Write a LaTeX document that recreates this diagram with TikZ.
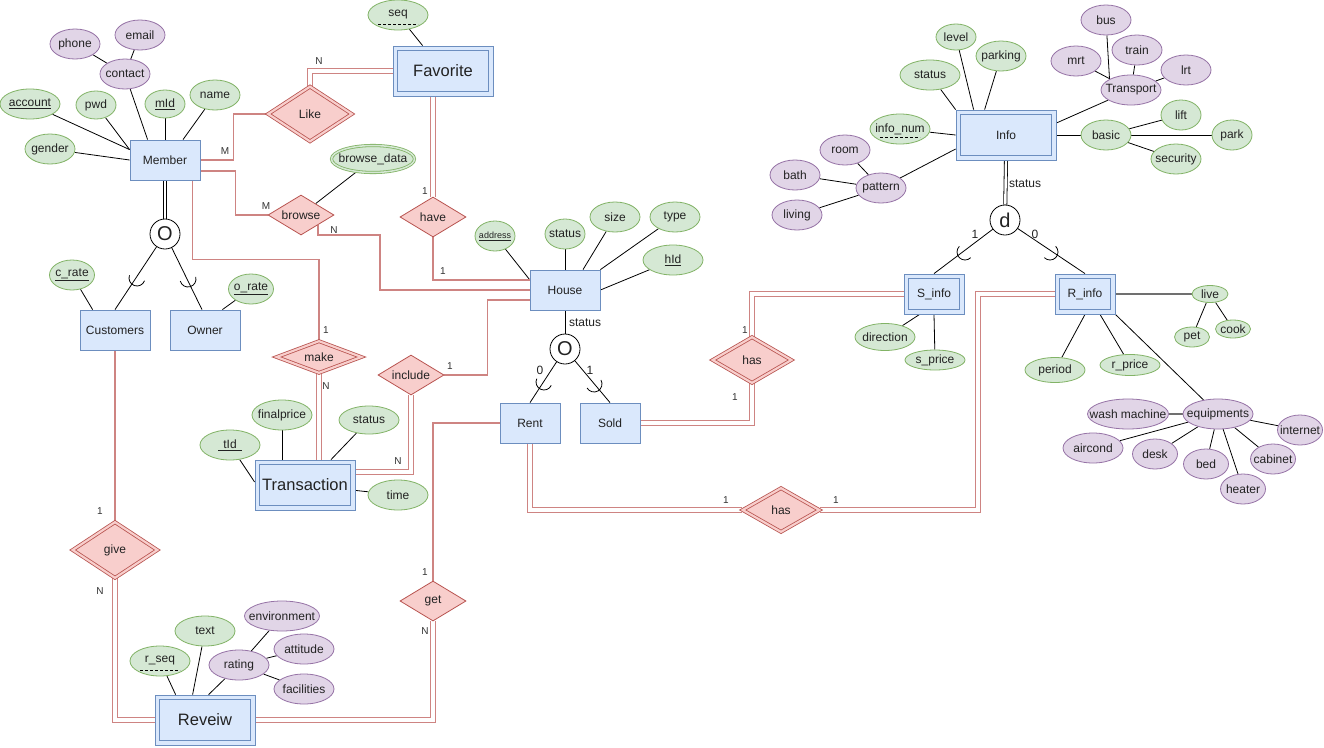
\documentclass[tikz,border=0pt]{standalone}
\usepackage{fontspec}
\setmainfont{Liberation Sans}
\usetikzlibrary{shapes.geometric,calc}
\definecolor{gfill}{HTML}{D5E8D4}
\definecolor{gline}{HTML}{82B366}
\definecolor{pfill}{HTML}{E1D5E7}
\definecolor{pline}{HTML}{9673A6}
\definecolor{bfill}{HTML}{DAE8FC}
\definecolor{bline}{HTML}{6C8EBF}
\definecolor{rfill}{HTML}{F8CECC}
\definecolor{rline}{HTML}{B85450}
\definecolor{rconn}{RGB}{206,132,130}
\definecolor{txt}{HTML}{222222}
\definecolor{thickgray}{HTML}{707070}
\newcommand{\myfs}[1]{\fontsize{#1}{#1}\selectfont}
\newcommand{\zb}[1]{\makebox[0pt]{#1}}
\pgfdeclarelayer{paper}
\pgfdeclarelayer{background}
\pgfsetlayers{paper,background,main}
\newcommand{\subarc}[3]{\draw[line width=0.8pt] (#1,#2) ++({#3+90}:8) arc[start angle={#3+90}, end angle={#3+270}, radius=8];}
\newcommand{\weakin}[1]{\draw[draw=bline, line width=0.8pt] ($(#1.north west)+(5,5)$) rectangle ($(#1.south east)+(-5,-5)$);}
\begin{document}
\begin{tikzpicture}[x=1pt,y=-1pt,
 every node/.style={text=txt},
 gattr/.style={ellipse, draw=gline, fill=gfill, line width=0.8pt, inner sep=0pt, font=\myfs{12}},
 pattr/.style={ellipse, draw=pline, fill=pfill, line width=0.8pt, inner sep=0pt, font=\myfs{12}},
 ent/.style={rectangle, draw=bline, fill=bfill, line width=0.8pt, inner sep=0pt, minimum width=70pt, minimum height=40pt, font=\myfs{12}},
 went/.style={ent},
 rel/.style={diamond, draw=rline, fill=rfill, line width=0.8pt, inner sep=0pt, font=\myfs{12}},
 wrel/.style={rel, double=rfill, double distance=2.2pt},
 spec/.style={circle, draw=black, fill=white, line width=0.8pt, minimum size=30pt, inner sep=0pt, font=\myfs{20}},
 card/.style={inner sep=0pt, font=\myfs{10}, text=black!80},
 lbl/.style={inner sep=0pt, font=\myfs{12}},
 al/.style={draw=black, line width=0.8pt},
 gl/.style={draw=thickgray, line width=1.8pt},
 rl/.style={draw=rconn, line width=1.1pt},
 rdl/.style={draw=rconn, line width=1pt, double=white, double distance=3.2pt},
 bdl/.style={draw=black, line width=0.8pt, double=white, double distance=2.4pt},
 dl/.style={draw=black, line width=0.7pt, dash pattern=on 3pt off 2pt},
]
\useasboundingbox (0,0) rectangle (1324,747);
\begin{pgfonlayer}{paper}
\fill[white] (0,0) rectangle (1324,747);
\end{pgfonlayer}

% ---------- entities ----------
\node[ent] (member) at (165,160) {Member};
\node[ent] (cust) at (115,330) {Customers};
\node[ent] (owner) at (205,330) {Owner};
\node[ent] (house) at (565,290) {House};
\node[ent, minimum width=60pt] (rent) at (530,423) {Rent};
\node[ent, minimum width=60pt] (sold) at (610,423) {Sold};
\node[went, minimum width=100pt, minimum height=50pt, font=\myfs{16.5}] (fav) at (443,71) {Favorite};
\node[went, minimum width=100pt, minimum height=50pt, font=\myfs{16.5}] (trans) at (305,485) {Transaction};
\node[went, minimum width=100pt, minimum height=50pt, font=\myfs{16.5}] (rev) at (205,720) {Reveiw};
\node[went, minimum width=100pt, minimum height=50pt] (info) at (1006,135) {Info};
\node[went, minimum width=60pt, minimum height=40pt] (sinfo) at (934,294) {S\_info};
\node[went, minimum width=60pt, minimum height=40pt] (rinfo) at (1085,294) {R\_info};
\weakin{fav}
\weakin{trans}
\weakin{rev}
\weakin{info}
\weakin{sinfo}
\weakin{rinfo}

% ---------- relationships ----------
\node[wrel, minimum width=84pt, minimum height=55pt] (like) at (310,114) {\zb{Like}};
\node[rel, minimum width=66pt, minimum height=40pt] (browse) at (301,215) {\zb{browse}};
\node[rel, minimum width=66pt, minimum height=40pt] (have) at (433,217) {\zb{have}};
\node[wrel, minimum width=85pt, minimum height=32pt] (make) at (319,357) {\zb{make}};
\node[rel, minimum width=66pt, minimum height=40pt] (include) at (411,375) {\zb{include}};
\node[wrel, minimum width=85pt, minimum height=56pt] (give) at (115,550) {\zb{give}};
\node[rel, minimum width=66pt, minimum height=40pt] (get) at (433,601) {\zb{get}};
\node[wrel, minimum width=79pt, minimum height=46pt] (has1) at (752,360) {\zb{has}};
\node[wrel, minimum width=77pt, minimum height=44pt] (has2) at (781,510) {\zb{has}};

% ---------- specialization circles ----------
\node[spec] (circM) at (165,234) {O};
\node[spec] (circH) at (565,349) {O};
\node[spec] (circD) at (1005,220) {d};

% ---------- Member attributes ----------
\node[gattr, minimum width=60pt, minimum height=30pt] (account) at (30,104) {\zb{\underline{account}}};
\node[gattr, minimum width=40pt, minimum height=28pt] (pwd) at (96,105) {\zb{pwd}};
\node[gattr, minimum width=40pt, minimum height=28pt] (mid) at (165,104) {\zb{\underline{mId}}};
\node[gattr, minimum width=50pt, minimum height=30pt] (name) at (215,95) {\zb{name}};
\node[gattr, minimum width=50pt, minimum height=30pt] (gender) at (50,149) {\zb{gender}};
\node[pattr, minimum width=50pt, minimum height=30pt] (contact) at (125,74) {\zb{contact}};
\node[pattr, minimum width=50pt, minimum height=30pt] (phone) at (75,44) {\zb{phone}};
\node[pattr, minimum width=50pt, minimum height=30pt] (email) at (140,35) {\zb{email}};
\node[gattr, minimum width=45pt, minimum height=30pt] (crate) at (72,275) {\zb{\underline{c\_rate}}};
\node[gattr, minimum width=45pt, minimum height=30pt] (orate) at (251,289) {\zb{\underline{o\_rate}}};

% ---------- Favorite / browse ----------
\node[gattr, minimum width=60pt, minimum height=30pt] (seq) at (398,15) {\zb{seq}};
\node[gattr, double=gfill, double distance=1.5pt, minimum width=83pt, minimum height=27pt] (bdata) at (373,159) {\zb{browse\_data}};

% ---------- House attributes ----------
\node[gattr, minimum width=40pt, minimum height=30pt, font=\myfs{9}] (address) at (495,236) {\zb{\underline{address}}};
\node[gattr, minimum width=40pt, minimum height=30pt] (hstatus) at (565,234) {\zb{status}};
\node[gattr, minimum width=50pt, minimum height=30pt] (size) at (615,217) {\zb{size}};
\node[gattr, minimum width=50pt, minimum height=30pt] (htype) at (675,217) {\zb{type}};
\node[gattr, minimum width=60pt, minimum height=30pt] (hid) at (673,260) {\zb{\underline{hId}}};

% ---------- Transaction attributes ----------
\node[gattr, minimum width=60pt, minimum height=30pt] (tid) at (230,445) {\zb{\underline{\hspace{5pt}tId\hspace{5pt}}}};
\node[gattr, minimum width=60pt, minimum height=30pt] (fprice) at (282,415) {\zb{finalprice}};
\node[gattr, minimum width=60pt, minimum height=28pt] (tstatus) at (369,420) {\zb{status}};
\node[gattr, minimum width=60pt, minimum height=30pt] (ttime) at (398,495) {\zb{time}};

% ---------- Reveiw attributes ----------
\node[gattr, minimum width=60pt, minimum height=30pt] (rseq) at (160,661) {\zb{r\_seq}};
\node[gattr, minimum width=60pt, minimum height=30pt] (rtext) at (205,631) {\zb{text}};
\node[pattr, minimum width=60pt, minimum height=30pt] (rating) at (239,665) {\zb{rating}};
\node[pattr, minimum width=75pt, minimum height=30pt] (envir) at (282,616) {\zb{environment}};
\node[pattr, minimum width=60pt, minimum height=30pt] (attit) at (304,649) {\zb{attitude}};
\node[pattr, minimum width=60pt, minimum height=30pt] (facil) at (304,689) {\zb{facilities}};

% ---------- Info attributes ----------
\node[gattr, minimum width=60pt, minimum height=30pt] (istatus) at (930,75) {\zb{status}};
\node[gattr, minimum width=40pt, minimum height=26pt] (level) at (956,37) {\zb{level}};
\node[gattr, minimum width=50pt, minimum height=30pt] (parking) at (1001,56) {\zb{parking}};
\node[gattr, minimum width=60pt, minimum height=30pt] (infonum) at (900,129) {\zb{info\_num}};
\node[pattr, minimum width=50pt, minimum height=30pt] (pattern) at (881,188) {\zb{pattern}};
\node[pattr, minimum width=50pt, minimum height=30pt] (room) at (845,150) {\zb{room}};
\node[pattr, minimum width=50pt, minimum height=30pt] (bath) at (795,175) {\zb{bath}};
\node[pattr, minimum width=50pt, minimum height=30pt] (living) at (797,215) {\zb{living}};
\node[pattr, minimum width=60pt, minimum height=30pt] (transport) at (1131,90) {\zb{Transport}};
\node[pattr, minimum width=50pt, minimum height=30pt] (bus) at (1106,20) {\zb{bus}};
\node[pattr, minimum width=50pt, minimum height=30pt] (mrt) at (1076,61) {\zb{mrt}};
\node[pattr, minimum width=50pt, minimum height=30pt] (train) at (1137,50) {\zb{train}};
\node[pattr, minimum width=50pt, minimum height=30pt] (lrt) at (1186,70) {\zb{lrt}};
\node[gattr, minimum width=50pt, minimum height=30pt] (basic) at (1106,135) {\zb{basic}};
\node[gattr, minimum width=40pt, minimum height=30pt] (lift) at (1181,115) {\zb{lift}};
\node[gattr, minimum width=40pt, minimum height=30pt] (park) at (1232,135) {\zb{park}};
\node[gattr, minimum width=50pt, minimum height=30pt] (security) at (1176,159) {\zb{security}};

% ---------- S_info / R_info attributes ----------
\node[gattr, minimum width=60pt, minimum height=27pt] (direction) at (885,337) {\zb{direction}};
\node[gattr, minimum width=60pt, minimum height=20pt] (sprice) at (935,360) {\zb{s\_price}};
\node[gattr, minimum width=60pt, minimum height=25pt] (period) at (1055,370) {\zb{period}};
\node[gattr, minimum width=60pt, minimum height=21pt] (rprice) at (1130,365) {\zb{r\_price}};
\node[gattr, minimum width=36pt, minimum height=17pt] (live) at (1210,294) {\zb{live}};
\node[gattr, minimum width=35pt, minimum height=20pt] (pet) at (1192,337) {\zb{pet}};
\node[gattr, minimum width=35pt, minimum height=18pt] (cook) at (1233,329) {\zb{cook}};
\node[pattr, minimum width=70pt, minimum height=30pt] (equip) at (1218,414) {\zb{equipments}};
\node[pattr, minimum width=81pt, minimum height=30pt] (wash) at (1128,414) {\zb{wash machine}};
\node[pattr, minimum width=45pt, minimum height=30pt] (internet) at (1300,430) {\zb{internet}};
\node[pattr, minimum width=60pt, minimum height=30pt] (aircond) at (1093,448) {\zb{aircond}};
\node[pattr, minimum width=45pt, minimum height=30pt] (desk) at (1155,454) {\zb{desk}};
\node[pattr, minimum width=45pt, minimum height=30pt] (bed) at (1206,464) {\zb{bed}};
\node[pattr, minimum width=45pt, minimum height=30pt] (cabinet) at (1273,459) {\zb{cabinet}};
\node[pattr, minimum width=45pt, minimum height=30pt] (heater) at (1243,489) {\zb{heater}};

% ---------- dashed underlines (partial keys) ----------
\draw[dl] ($(seq)+(-20,9)$) -- ($(seq)+(20,9)$);
\draw[dl] ($(infonum)+(-20,8)$) -- ($(infonum)+(20,8)$);
\draw[dl] ($(rseq)+(-20,9)$) -- ($(rseq)+(20,9)$);

% ---------- subset arcs ----------
\subarc{137}{278}{-70}
\subarc{188}{279}{-105}
\subarc{544}{382}{-65}
\subarc{594}{384}{-120}
\subarc{965}{252}{-45}
\subarc{1050}{252}{-135}

% ---------- labels ----------
\node[lbl] (lstH) at (585,323) {status};
\node[lbl] (lstI) at (1025,184) {status};
\node[lbl] (l0H) at (540,370) {0};
\node[lbl] (l1H) at (590,370) {1};
\node[lbl] (l1D) at (975,234) {1};
\node[lbl] (l0D) at (1035,234) {0};
\node[card] (c1) at (225,151) {M};
\node[card] (c2) at (319,61) {N};
\node[card] (c3) at (266,206) {M};
\node[card] (c4) at (334,230) {N};
\node[card] (c5) at (425,191) {1};
\node[card] (c6) at (443,271) {1};
\node[card] (c7) at (326,330) {1};
\node[card] (c8) at (326,386) {N};
\node[card] (c9) at (450,366) {1};
\node[card] (c10) at (398,461) {N};
\node[card] (c11) at (100,511) {1};
\node[card] (c12) at (100,591) {N};
\node[card] (c13) at (425,572) {1};
\node[card] (c14) at (425,631) {N};
\node[card] (c15) at (745,330) {1};
\node[card] (c16) at (735,397) {1};
\node[card] (c17) at (726,500) {1};
\node[card] (c18) at (836,500) {1};

% ---------- connectors ----------
\begin{pgfonlayer}{background}
% Member attributes
\draw[al] (account) -- ($(member.north west)+(0,10)$);
\draw[al] (pwd) -- ($(member.north west)+(0,10)$);
\draw[al] (gender) -- (member.west);
\draw[al] (contact) -- ($(member.north west)+(18,0)$);
\draw[al] (mid) -- (member.north);
\draw[al] (name) -- ($(member.north)+(18,0)$);
\draw[al] (phone) -- (contact);
\draw[al] (email) -- (contact);
\draw[al] (crate) -- ($(cust.north west)+(13,0)$);
\draw[al] (orate) -- ($(owner.north east)+(-18,0)$);
% specialization
\draw[bdl] (member.south) -- (circM);
\draw[al] (circM) -- (cust.north);
\draw[al] (circM) -- ($(owner.north)+(-3,0)$);
\draw[al] (house.south) -- (circH);
\draw[al] (circH) -- (rent.north);
\draw[al] (circH) -- (sold.north);
\draw[bdl] (info.south) -- (circD);
\draw[al] (circD) -- (sinfo.north);
\draw[al] (circD) -- (rinfo.north);
% Favorite / browse
\draw[al] (seq) -- (fav);
\draw[al] (bdata) -- (browse);
% House attributes
\draw[al] (address) -- ($(house.north west)+(0,10)$);
\draw[al] (hstatus) -- (house.north);
\draw[al] (size) -- ($(house.north)+(18,0)$);
\draw[al] (htype) -- (house.north east);
\draw[al] (hid) -- (house.east);
% Transaction attributes
\draw[al] (tid) -- ($(trans.west)+(0,-3)$);
\draw[al] (fprice) -- (fprice |- trans.north);
\draw[al] (tstatus) -- ($(trans.north)+(26,0)$);
\draw[al] (ttime) -- (trans);
% Reveiw attributes
\draw[al] (rseq) -- ($(rev.north west)+(21,0)$);
\draw[al] (rtext) -- ($(rev.north west)+(38,0)$);
\draw[al] (rating) -- ($(rev.north west)+(54,0)$);
\draw[al] (rating) -- (envir);
\draw[al] (rating) -- (attit);
\draw[al] (rating) -- (facil);
% Info attributes
\draw[al] (istatus) -- (info.north west);
\draw[al] (level) -- ($(info.north west)+(18,0)$);
\draw[al] (parking) -- ($(info.north west)+(29,0)$);
\draw[al] (infonum) -- (info.west);
\draw[al] (pattern) -- ($(info.west)+(0,14)$);
\draw[al] (room) -- (pattern);
\draw[al] (bath) -- (pattern);
\draw[al] (living) -- (pattern);
\draw[al] (transport) -- ($(info.east)+(0,-12)$);
\draw[al] (mrt) -- (transport);
\draw[al] (bus) -- (transport.north west);
\draw[al] (train) -- (transport);
\draw[al] (lrt) -- (transport);
\draw[al] (basic) -- (info);
\draw[al] (basic) -- (lift);
\draw[al] (basic) -- (park);
\draw[al] (basic) -- (security);
% S_info / R_info attributes
\draw[al] (direction) -- ($(sinfo.south west)+(16,0)$);
\draw[al] (sprice) -- (sinfo.south);
\draw[al] (period) -- (rinfo.south);
\draw[al] (rprice) -- ($(rinfo.south)+(15,0)$);
\draw[al] (equip) -- (rinfo.south east);
\draw[gl] (rinfo) -- (live);
\draw[al] (live) -- (pet);
\draw[al] (live) -- (cook);
\draw[gl] (wash) -- (equip);
\draw[al] (equip) -- (internet);
\draw[al] (equip) -- (aircond);
\draw[al] (equip) -- (desk);
\draw[al] (equip) -- (bed);
\draw[al] (equip) -- (cabinet);
\draw[al] (equip) -- (heater);
% relationship connectors
\draw[rl] (member.east) -- ++(33,0) |- (like.west);
\draw[rdl] (like.north) |- (fav.west);
\draw[rl] ($(member.east)+(0,11)$) -- ++(35,0) |- (browse.west);
\draw[rl] ($(browse.center)+(17,10)$) -- ++(0,10) -- ++(62,0) |- (house.west);
\draw[rdl] (have.north |- fav.south) -- (have.north);
\draw[rl] (have.south) |- ($(house.west)+(0,-10)$);
\draw[rl] ($(member.south east)+(-8,0)$) -- ++(0,79) -| (make.north);
\draw[rdl] (make.south) -- (make.south |- trans.north);
\draw[rl] (include.east) -- ++(43,0) |- ($(house.west)+(0,10)$);
\draw[rdl] (include.south) |- ($(trans.east)+(0,-13)$);
\draw[rl] (cust.south) -- (give.north);
\draw[rdl] (give.south) |- (rev.west);
\draw[rl] (get.north) |- (rent.west);
\draw[rdl] (get.south) |- (rev.east);
\draw[rdl] (rent.south) |- (has2.west);
\draw[rdl] (has2.east) -- ++(158,0) |- (rinfo.west);
\draw[rdl] (sold.east) -| (has1.south);
\draw[rdl] (has1.north) |- (sinfo.west);
\end{pgfonlayer}
\end{tikzpicture}
\end{document}
